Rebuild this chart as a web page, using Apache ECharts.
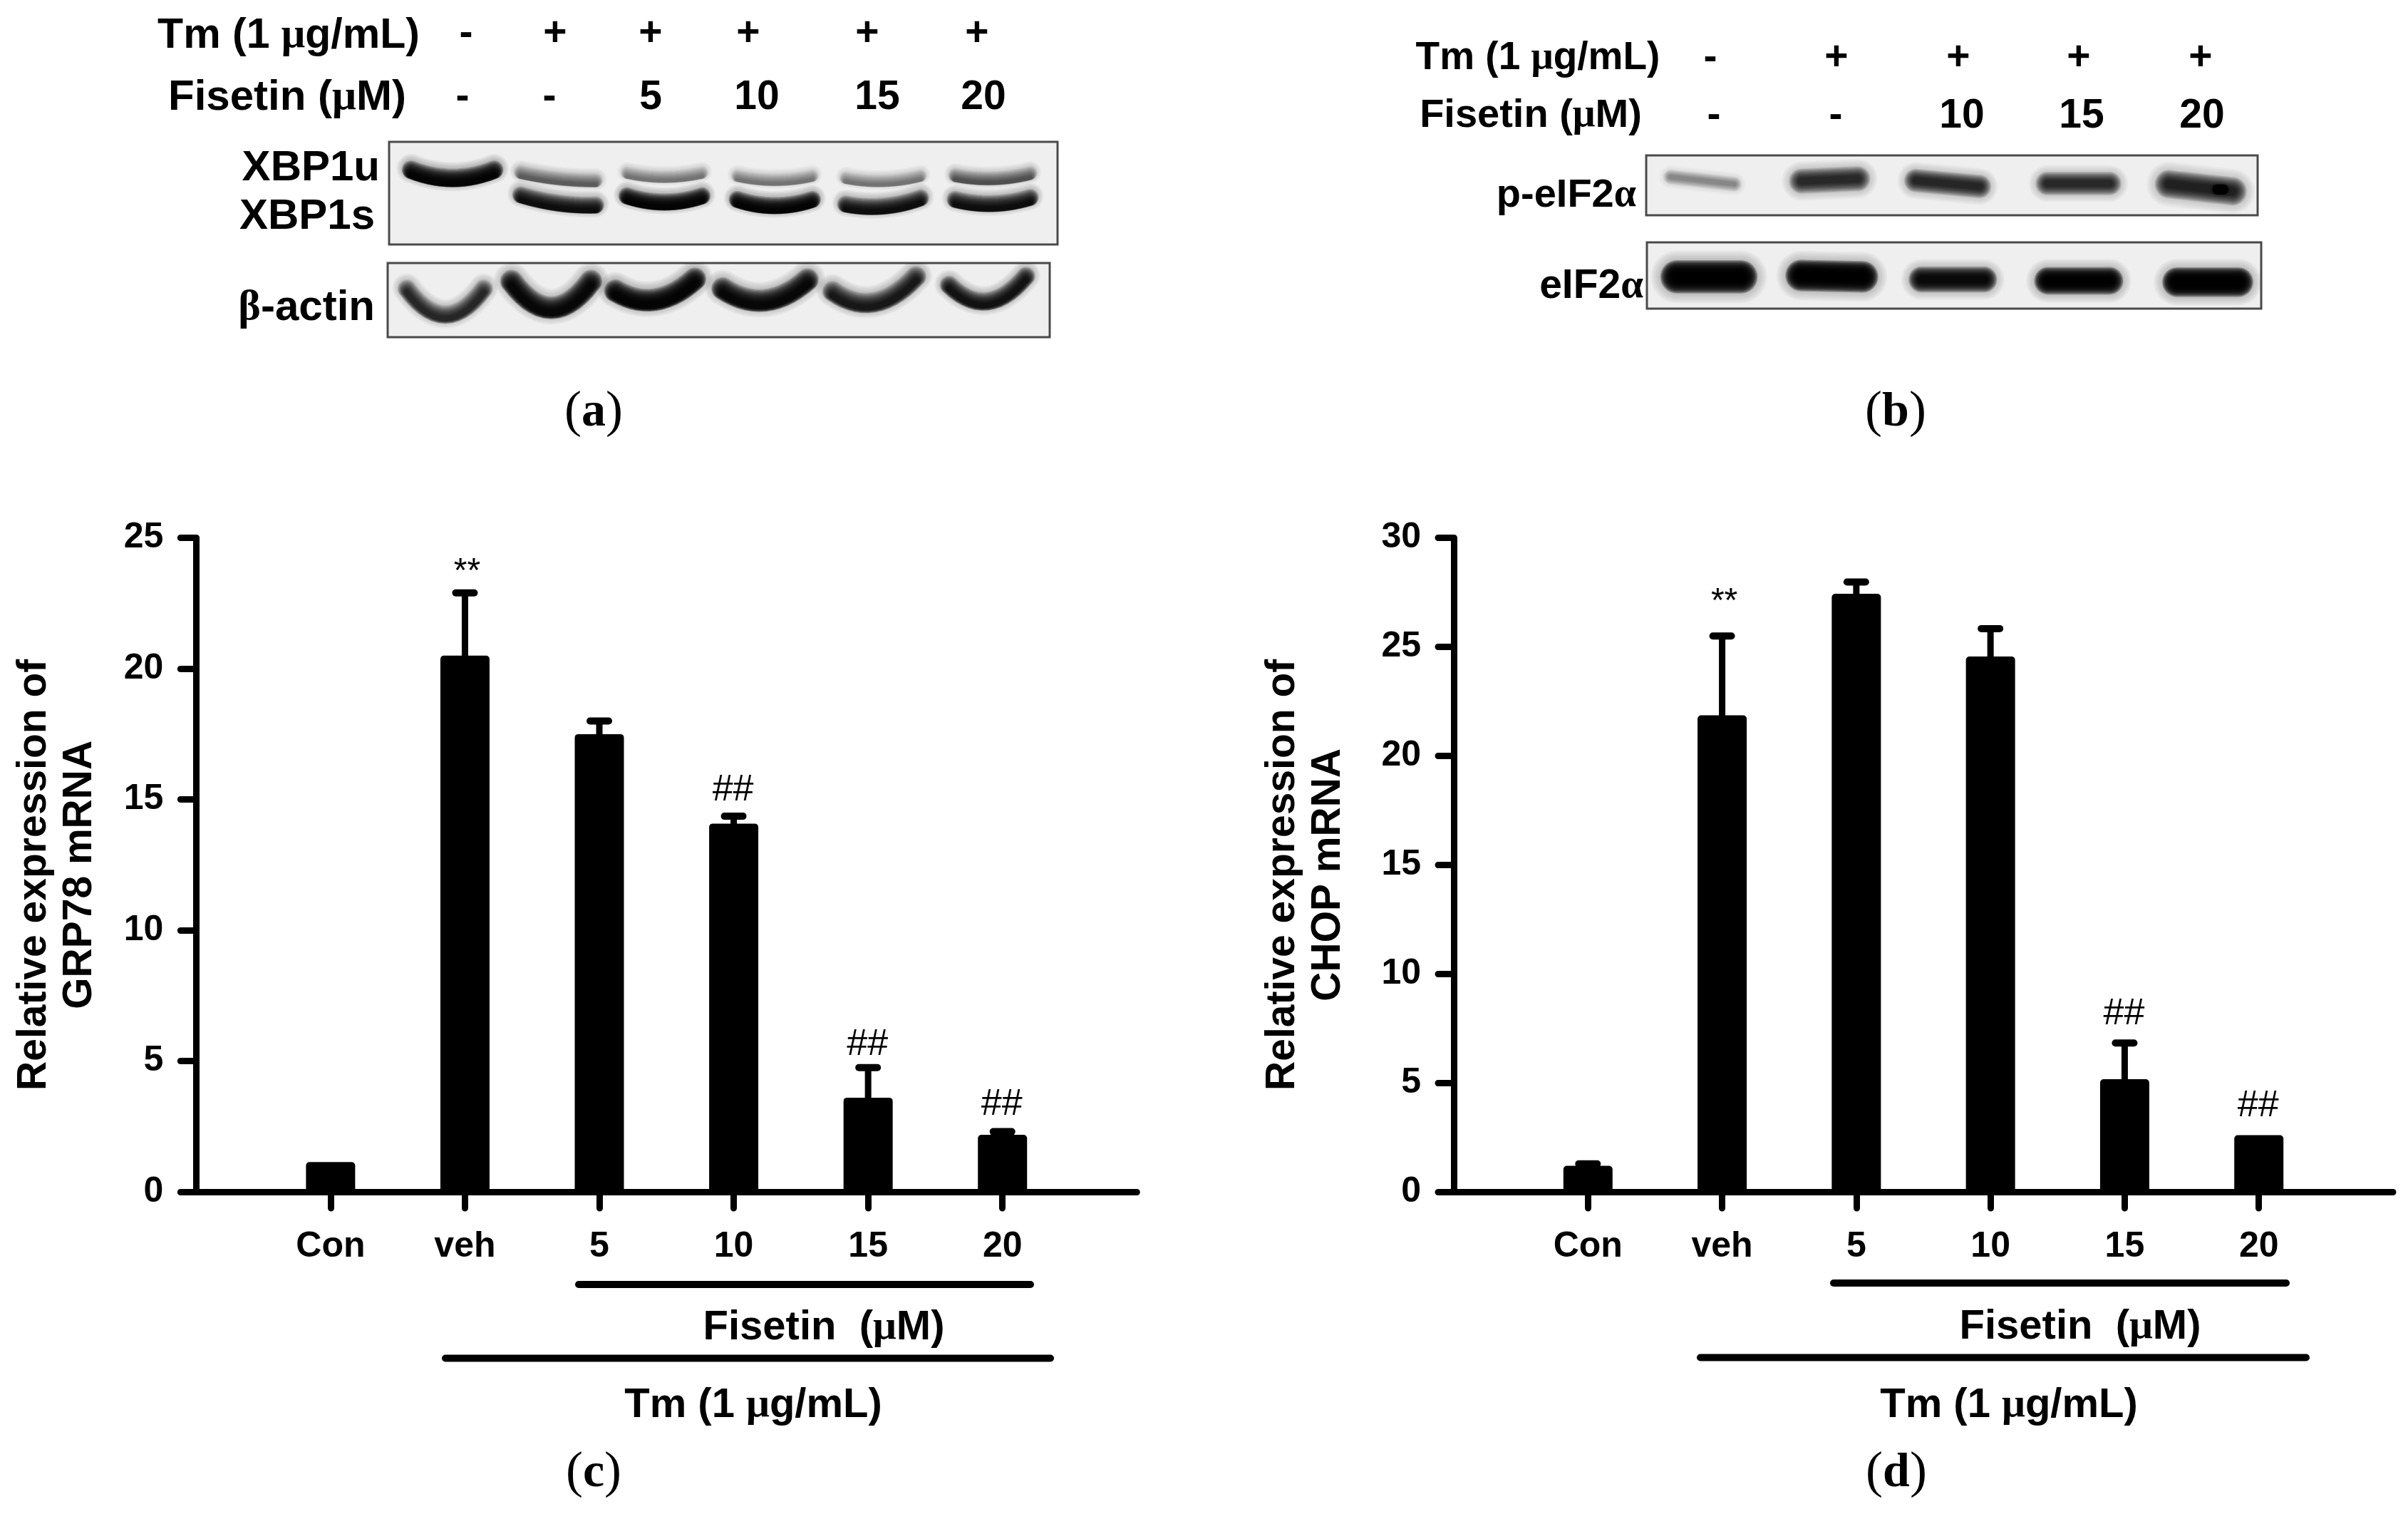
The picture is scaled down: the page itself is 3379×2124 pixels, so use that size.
<!DOCTYPE html>
<html><head><meta charset="utf-8">
<style>html,body{margin:0;padding:0;background:#fff}#c{width:3379px;height:2124px}</style>
<script src="https://cdn.jsdelivr.net/npm/echarts@6/dist/echarts.min.js"></script>
</head><body><div id="c"></div>
<script>
// ---- data ----
const categories = ['', 'Con', 'veh', '5', '10', '15', '20', ''];
const grp78Mean  = [null, 1.14, 20.5, 17.5, 14.08, 3.6, 2.18, null];
const grp78Upper = [null, 1.14, 22.9, 18.0, 14.36, 4.75, 2.3, null];
const grp78Sig   = [null, null, '**', null, '##', '##', '##', null];
const grp78SigAt = [null, null, 23.9, null, 15.35, 5.62, 3.34, null];
const chopMean   = [null, 1.19, 21.86, 27.44, 24.56, 5.17, 2.6, null];
const chopUpper  = [null, 1.28, 25.5, 27.98, 25.84, 6.83, 2.6, null];
const chopSig    = [null, null, '**', null, null, '##', '##', null];
const chopSigAt  = [null, null, 27.3, null, null, 8.17, 3.95, null];
const grp78Ticks = [0, 25, 5];
const chopTicks  = [0, 30, 5];
// blot bands: lane centre, height, half width, sag, tilt, thickness, darkness (percent of each blot)
const xbpBands = [
 [9.5,41,6.2,8,0,13,.97],
 [25.3,40,5.6,2,4,10,.55],[25.3,65,5.6,3,5,12,.92],
 [41.2,38,5.6,4,0,9,.45],[41.2,64,5.6,6,0,12,.97],
 [57.7,41,5.6,4,0,9,.45],[57.7,67.5,5.6,6,0,12,.97],
 [73.9,42,5.6,4,-1,9,.45],[73.9,68,5.6,5,-3,12,.92],
 [90.3,40,5.6,4,-1,10,.6],[90.3,65.5,5.6,5,-1,12,.92]
];
const actinBands = [
 [8.7,75,5.8,35,0,18,.8],[24.7,67,6,36,0,22,.95],[40.4,56,6,20,-8,22,.97],
 [57,57,6.4,22,-6,22,.95],[73.5,59,6.3,25,-10,20,.85],[90.6,57,5.8,28,-6,18,.9]
];
const pEif2Bands = [
 [9.2,42,5.2,0,6,18,.35],[30,41,4.6,0,-2,30,.78],[49.3,47,5.2,0,5,28,.8],
 [70.7,47,5.1,0,0,28,.78],[90.7,54,5.2,0,6,34,.82],[93.9,57,.5,0,0,12,1]
];
const eif2Bands = [
 [10.1,52,5.2,0,0,36,.99],[30.1,51,5,0,1,34,.99],[49.8,56,5.1,0,0,28,.94],
 [70.3,58,5,0,0,30,.98],[91.3,60,5,0,0,32,.99]
];
const laneRowsA = [['-','+','+','+','+','+'],['-','-','5','10','15','20']];
const laneRowsB = [['-','+','+','+','+'],['-','-','10','15','20']];

// ---- style ----
const SANS = '"Liberation Sans"', SERIF = '"Liberation Serif"';
const FS = 50;

function T(x, y, text, size, align) {
  const rich = {g:{fontFamily:SERIF,fontWeight:'bold',fontSize:size,fill:'#000'},
                t:{fontFamily:SANS,fontWeight:'bold',fontSize:size,fill:'#000'}};
  const parts = String(text).split(/([μαβ])/).map(p=>!p?'':(/[μαβ]/.test(p)?'{g|'+p+'}':'{t|'+p+'}')).join('');
  return {type:'text',x,y,z:50,silent:true,style:{text:parts,rich,align:align||'center',verticalAlign:'middle',fill:'#000',
    fontFamily:SANS,fontWeight:'bold',fontSize:size}};
}
function P(x, y, letter) {
  const rich = {p:{fontFamily:SERIF,fontSize:72,fill:'#000'},
                l:{fontFamily:SERIF,fontWeight:'bold',fontSize:68,fill:'#000'}};
  return {type:'text',x,y,z:50,silent:true,style:{text:'{p|(}{l|'+letter+'}{p|)}',rich,align:'center',verticalAlign:'middle',fill:'#000',fontFamily:SERIF,fontSize:72}};
}
function hline(x1,x2,y){
  return {type:'line',z:50,silent:true,shape:{x1,y1:y,x2,y2:y},style:{stroke:'#000',lineWidth:10,lineCap:'round'}};
}

const graphics = [
  T(405,51,'Tm (1 μg/mL)',59),T(403,137,'Fisetin (μM)',60),
  T(533,236,'XBP1u',60,'right'),T(526,304,'XBP1s',60,'right'),T(526,432,'β-actin',60,'right'),
  P(833,579,'a'),
  T(2158,82,'Tm (1 μg/mL)',55),T(2148,163,'Fisetin (μM)',56),
  T(2296,275,'p-eIF2α',56,'right'),T(2306,402,'eIF2α',57,'right'),
  P(2660,579,'b'),
  hline(812,1446,1802),hline(625,1474,1905.5),
  T(1156,1863,'Fisetin  (μM)',58),T(1057,1972,'Tm (1 μg/mL)',58),
  P(833,2067,'c'),
  hline(2573,3208,1800),hline(2386,3236,1904.5),
  T(2919,1862,'Fisetin  (μM)',58),T(2819,1972,'Tm (1 μg/mL)',58),
  P(2661,2067,'d')
];
[[laneRowsA[0],[654,779,913,1050,1217,1371],48],[laneRowsA[1],[649,771,913,1062,1231,1380],137],
 [laneRowsB[0],[2400,2577,2748,2917,3088],82],[laneRowsB[1],[2405,2576,2753,2921,3090],163]].forEach(r=>{
  r[0].forEach((s,i)=>graphics.push(T(r[1][i],r[2],s,57)));
});

// ---- grids ----
const grids=[], xAxes=[], yAxes=[], series=[];
function barPanel(left,width,title,mean,upper,sig,sigAt,ticks,nameGap){
  const g=grids.length;
  grids.push({left,top:754.7,width,height:917.3,outerBoundsMode:'none',containLabel:false});
  xAxes.push({gridIndex:g,type:'category',data:categories,boundaryGap:false,
    axisLine:{show:true,onZero:false,lineStyle:{color:'#000',width:9,cap:'round'}},
    axisTick:{show:true,length:23,alignWithLabel:true,interval:(i)=>i>=1&&i<=6,lineStyle:{color:'#000',width:9,cap:'round'}},
    axisLabel:{show:true,interval:(i)=>i>=1&&i<=6,margin:52,color:'#000',fontFamily:SANS,fontWeight:'bold',fontSize:FS},
    splitLine:{show:false}});
  yAxes.push({gridIndex:g,type:'value',min:ticks[0],max:ticks[1],interval:ticks[2],
    name:title,nameLocation:'middle',nameRotate:90,nameGap,
    nameTextStyle:{color:'#000',fontFamily:SANS,fontWeight:'bold',fontSize:57,lineHeight:64,align:'center',padding:[0,28,0,0]},
    axisLine:{show:true,lineStyle:{color:'#000',width:9,cap:'round'}},
    axisTick:{show:true,length:22,lineStyle:{color:'#000',width:9,cap:'round'}},
    axisLabel:{margin:46,color:'#000',fontFamily:SANS,fontWeight:'bold',fontSize:FS},
    splitLine:{show:false}});
  series.push({type:'bar',xAxisIndex:g,yAxisIndex:g,data:mean,barWidth:69,z:3,
    itemStyle:{color:'#000',borderRadius:[5,5,0,0]}});
  const errData=mean.map((m,i)=>m==null?null:[i,m,upper[i]]).filter(Boolean);
  series.push({type:'custom',xAxisIndex:g,yAxisIndex:g,data:errData,z:2,clip:false,
    encode:{x:0,y:[1,2]},
    renderItem:(p,api)=>{
      const a=api.coord([api.value(0),api.value(1)]), b=api.coord([api.value(0),api.value(2)]);
      if(a[1]-b[1]<1) return {type:'group',children:[]};
      return {type:'group',children:[
        {type:'line',shape:{x1:a[0],y1:a[1]+2,x2:a[0],y2:b[1]},style:{stroke:'#000',lineWidth:9}},
        {type:'line',shape:{x1:a[0]-13,y1:b[1],x2:a[0]+13,y2:b[1]},style:{stroke:'#000',lineWidth:10,lineCap:'round'}}
      ]};
    }});
  const sigData=sig.map((s,i)=>s==null?null:[i,sigAt[i],s]).filter(Boolean);
  series.push({type:'custom',xAxisIndex:g,yAxisIndex:g,data:sigData,z:4,clip:false,
    encode:{x:0,y:1},
    renderItem:(p,api)=>{
      const c=api.coord([api.value(0),api.value(1)]), s=sigData[p.dataIndex][2], star=s==='**';
      return {type:'text',x:c[0]+(star?3:-1),y:c[1]+(star?8:0),style:{text:s,align:'center',verticalAlign:'middle',fill:'#000',
        fontFamily:SANS,fontSize:star?48:52}};
    }});
}
function blotPanel(left,top,width,height,bands,smear){
  const g=grids.length;
  grids.push({left,top,width,height,show:true,backgroundColor:'#efefef',borderColor:'#4a4a4a',borderWidth:3,outerBoundsMode:'none'});
  xAxes.push({gridIndex:g,type:'value',min:0,max:100,show:false});
  yAxes.push({gridIndex:g,type:'value',min:0,max:100,inverse:true,show:false});
  series.push({type:'custom',xAxisIndex:g,yAxisIndex:g,data:bands,z:2,clip:true,
    encode:{x:0,y:1},
    renderItem:(p,api)=>{
      const v=[0,1,2,3,4,5,6].map(k=>api.value(k));
      const thick=api.size([0,v[5]])[1], N=16, H=6, dark=v[6];
      const alpha=1-Math.pow(1-dark,1/N);
      const pts=[];
      for(let k=0;k<=14;k++){
        const t=2*k/14-1;
        pts.push(api.coord([v[0]+v[2]*t, v[1]-v[3]*t*t+v[4]*t]));
      }
      const ch=[];
      for(let i=0;i<H;i++){
        const f=1-i/(H-1);
        ch.push({type:'polyline',y:-thick*smear*1.2,shape:{points:pts},style:{stroke:'#000',opacity:.035*dark,lineWidth:thick*(1.45+.75*f),lineCap:'round',lineJoin:'round',fill:null}});
      }
      for(let i=0;i<N;i++){
        const f=1-i/(N-1);
        const w=thick*(0.35+1.05*f);
        const dy=-thick*smear*f;
        ch.push({type:'polyline',y:dy,shape:{points:pts},style:{stroke:'#000',opacity:alpha,lineWidth:w,lineCap:'round',lineJoin:'round',fill:null}});
      }
      return {type:'group',children:ch};
    }});
}
barPanel(275.3,1320,'Relative expression of\nGRP78 mRNA',grp78Mean,grp78Upper,grp78Sig,grp78SigAt,grp78Ticks,131);
barPanel(2040,1318,'Relative expression of\nCHOP mRNA',chopMean,chopUpper,chopSig,chopSigAt,chopTicks,144);
blotPanel(546,199,938,144,xbpBands,.45);
blotPanel(544,369,929,104,actinBands,.3);
blotPanel(2310,218,858,84,pEif2Bands,0);
blotPanel(2311,340,862,93,eif2Bands,0);

const chart=echarts.init(document.getElementById('c'),null,{renderer:'canvas',width:3379,height:2124});
chart.setOption({animation:false,backgroundColor:'#fff',grid:grids,xAxis:xAxes,yAxis:yAxes,series,graphic:graphics,tooltip:{show:false}});
</script></body></html>
